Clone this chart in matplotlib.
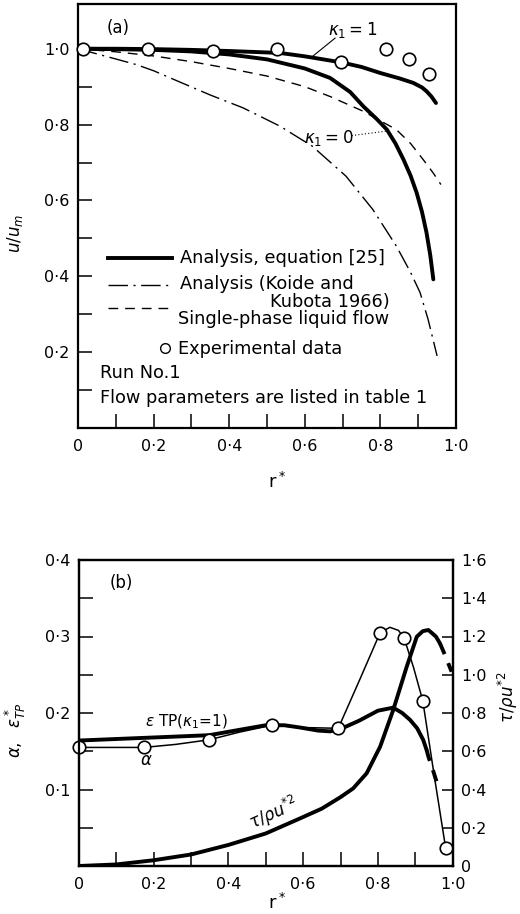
import numpy as np
import matplotlib
matplotlib.use("Agg")
import matplotlib.pyplot as plt
from matplotlib.lines import Line2D

plt.rcParams['font.family'] = ['DejaVu Sans']
plt.rcParams['mathtext.fontset'] = 'dejavusans'

# ---------------- Panel (a) data ----------------
r_exp = [0.012, 0.186, 0.356, 0.527, 0.697, 0.815, 0.875, 0.928]
u_exp = [1.0, 1.0, 0.994, 1.0, 0.964, 1.0, 0.973, 0.934]

r_k1 = [0.0, 0.1, 0.2, 0.3, 0.4, 0.534, 0.6, 0.697, 0.75, 0.8, 0.85, 0.887, 0.91, 0.922, 0.935, 0.947]
u_k1 = [1.0, 1.0, 0.999, 0.997, 0.994, 0.989, 0.98, 0.964, 0.952, 0.936, 0.922, 0.91, 0.898, 0.888, 0.874, 0.857]

r_k0 = [0.0, 0.1, 0.2, 0.3, 0.4, 0.5, 0.6, 0.667, 0.72, 0.755, 0.79, 0.817, 0.84, 0.861, 0.88,
        0.896, 0.91, 0.922, 0.932, 0.94]
u_k0 = [1.0, 0.999, 0.997, 0.993, 0.985, 0.972, 0.948, 0.923, 0.886, 0.848, 0.815, 0.787, 0.75,
        0.708, 0.665, 0.62, 0.57, 0.515, 0.455, 0.392]

r_sp = [0.0, 0.1, 0.2, 0.3, 0.4, 0.5, 0.6, 0.667, 0.755, 0.8, 0.842, 0.88, 0.913, 0.94, 0.96]
u_sp = [1.0, 0.992, 0.981, 0.966, 0.948, 0.928, 0.9, 0.874, 0.835, 0.81, 0.787, 0.75, 0.708, 0.672, 0.642]

r_kk = [0.0, 0.1, 0.155, 0.2, 0.27, 0.35, 0.437, 0.534, 0.62, 0.709, 0.78, 0.842, 0.88, 0.905, 0.926, 0.95]
u_kk = [1.0, 0.973, 0.958, 0.942, 0.912, 0.878, 0.844, 0.796, 0.743, 0.664, 0.576, 0.48, 0.41, 0.357, 0.287, 0.19]

# ---------------- Panel (b) data ----------------
r_alpha_pts = [0.002, 0.175, 0.349, 0.516, 0.694, 0.806, 0.870, 0.920, 0.981]
alpha_pts = [0.155, 0.155, 0.165, 0.184, 0.180, 0.305, 0.298, 0.216, 0.024]

r_alpha = [0.002, 0.175, 0.26, 0.349, 0.43, 0.516, 0.6, 0.694, 0.75, 0.806, 0.832, 0.855, 0.870,
           0.895, 0.920, 0.95, 0.981]
alpha = [0.155, 0.155, 0.159, 0.165, 0.175, 0.184, 0.181, 0.180, 0.242, 0.305, 0.312, 0.308, 0.298,
         0.26, 0.216, 0.12, 0.024]

r_eps = [0.0, 0.1, 0.2, 0.3, 0.349, 0.43, 0.5, 0.55, 0.592, 0.64, 0.672, 0.7, 0.75, 0.8, 0.841,
         0.865, 0.886, 0.905, 0.921, 0.93]
eps = [0.164, 0.166, 0.168, 0.170, 0.171, 0.178, 0.184, 0.184, 0.181, 0.177, 0.176, 0.179, 0.19,
       0.203, 0.207, 0.2, 0.191, 0.18, 0.165, 0.152]
r_eps_d = [0.93, 0.935, 0.948, 0.961]
eps_d = [0.152, 0.143, 0.124, 0.104]

r_tau = [0.0, 0.1, 0.2, 0.3, 0.4, 0.5, 0.592, 0.65, 0.7, 0.734, 0.77, 0.806, 0.841, 0.877, 0.904,
         0.92, 0.935, 0.955, 0.966]
tau = [0.0, 0.008, 0.03, 0.06, 0.11, 0.17, 0.249, 0.3, 0.36, 0.406, 0.485, 0.624, 0.816, 1.042,
       1.199, 1.228, 1.234, 1.2, 1.164]
r_tau_d = [0.966, 0.98, 0.997]
tau_d = [1.164, 1.1, 1.016]

x_ticks = [0.0, 0.1, 0.2, 0.3, 0.4, 0.5, 0.6, 0.7, 0.8, 0.9, 1.0]
x_ticklabels = ['0', '', '0·2', '', '0·4', '', '0·6', '', '0·8', '', '1·0']
ya_ticks = [0.1, 0.2, 0.3, 0.4, 0.5, 0.6, 0.7, 0.8, 0.9, 1.0]
ya_ticklabels = ['', '0·2', '', '0·4', '', '0·6', '', '0·8', '', '1·0']
yb_ticks = [0.05, 0.1, 0.15, 0.2, 0.25, 0.3, 0.35, 0.4]
yb_ticklabels = ['', '0·1', '', '0·2', '', '0·3', '', '0·4']
yr_ticks = [0.0, 0.2, 0.4, 0.6, 0.8, 1.0, 1.2, 1.4, 1.6]
yr_ticklabels = ['0', '0·2', '0·4', '0·6', '0·8', '1·0', '1·2', '1·4', '1·6']

W, H = 520, 914
fig = plt.figure(figsize=(W / 100, H / 100), dpi=100)

def frac_rect(l, r, t, b):
    return [l / W, 1 - b / H, (r - l) / W, (b - t) / H]

TFS = 11.5   # tick labels
LFS = 12     # annotations
GFS = 12.8   # legend / notes

def style_axes(ax):
    for s in ax.spines.values():
        s.set_linewidth(1.6)
    ax.tick_params(direction='in', length=10, width=1.1, labelsize=TFS, pad=6)

# ---------------- Panel (a) ----------------
ax1 = fig.add_axes(frac_rect(78, 456, 4, 428))
style_axes(ax1)
ax1.set_xlim(0, 1.0)
ax1.set_ylim(0, 1.118)
ax1.set_xticks(x_ticks)
ax1.set_xticklabels(x_ticklabels)
ax1.set_yticks(ya_ticks)
ax1.set_yticklabels(ya_ticklabels)
ax1.tick_params(axis='x', pad=8)

ax1.plot(r_kk, u_kk, color='black', lw=1.0, dashes=(14, 4, 1.5, 4))
ax1.plot(r_sp, u_sp, color='black', lw=1.0, dashes=(7, 5))
ax1.plot(r_k0, u_k0, color='black', lw=2.8, solid_capstyle='round')
ax1.plot(r_k1, u_k1, color='black', lw=2.8, solid_capstyle='round')
ax1.plot(r_exp, u_exp, 'o', ms=9, mfc='white', mec='black', mew=1.2, clip_on=False, zorder=5)

ax1.text(0.077, 0.943, '(a)', transform=ax1.transAxes, fontsize=LFS, ha='left', va='center')
ax1.text(0.726, 1.05, r'$\kappa_1=1$', fontsize=LFS, ha='center', va='center')
ax1.plot([0.68, 0.622], [1.028, 0.981], color='black', lw=0.8)
ax1.text(0.664, 0.765, r'$\kappa_1=0$', fontsize=LFS, ha='center', va='center')
ax1.plot([0.724, 0.817], [0.771, 0.783], color='black', lw=0.8, ls=(0, (1, 2)))

# legend (drawn manually)
ax1.add_line(Line2D([0.079, 0.249], [0.401, 0.401], transform=ax1.transAxes, color='black', lw=2.8))
ax1.text(0.27, 0.401, 'Analysis, equation [25]', transform=ax1.transAxes, fontsize=GFS, va='center')
ax1.add_line(Line2D([0.079, 0.249], [0.337, 0.337], transform=ax1.transAxes, color='black', lw=1.0,
                    dashes=(14, 4, 1.5, 4)))
ax1.text(0.27, 0.34, 'Analysis (Koide and', transform=ax1.transAxes, fontsize=GFS, va='center')
ax1.text(0.508, 0.297, 'Kubota 1966)', transform=ax1.transAxes, fontsize=GFS, va='center')
ax1.add_line(Line2D([0.079, 0.249], [0.283, 0.283], transform=ax1.transAxes, color='black', lw=1.0,
                    dashes=(7, 5)))
ax1.text(0.265, 0.257, 'Single-phase liquid flow', transform=ax1.transAxes, fontsize=GFS, va='center')
ax1.add_line(Line2D([0.23], [0.189], transform=ax1.transAxes, marker='o', ms=7, mfc='white',
                    mec='black', mew=1.0, ls='none'))
ax1.text(0.265, 0.186, 'Experimental data', transform=ax1.transAxes, fontsize=GFS, va='center')
ax1.text(0.058, 0.13, 'Run No.1', transform=ax1.transAxes, fontsize=GFS, va='center')
ax1.text(0.058, 0.071, 'Flow parameters are listed in table 1', transform=ax1.transAxes,
         fontsize=GFS, va='center')

fig.text(15 / W, 1 - 233 / H, r'$u/u_m$', rotation=90, fontsize=LFS, ha='center', va='center')
fig.text(277 / W, 1 - 482 / H, r'r$^*$', fontsize=13, ha='center', va='center')

# ---------------- Panel (b) ----------------
ax2 = fig.add_axes(frac_rect(78.7, 452.7, 560, 866))
style_axes(ax2)
ax2.set_xlim(0, 1.0)
ax2.set_ylim(0, 0.4)
ax2.set_xticks(x_ticks)
ax2.set_xticklabels(x_ticklabels)
ax2.set_yticks(yb_ticks)
ax2.set_yticklabels(yb_ticklabels)
ax2.tick_params(axis='x', pad=8)

ax3 = ax2.twinx()
ax3.set_ylim(0, 1.6)
ax3.set_yticks(yr_ticks)
ax3.set_yticklabels(yr_ticklabels)
ax3.tick_params(direction='in', length=8, width=1.1, labelsize=TFS, pad=6)
for s in ax3.spines.values():
    s.set_linewidth(1.6)

ax2.plot(r_alpha, alpha, color='black', lw=1.1, zorder=3)
ax2.plot(r_eps, eps, color='black', lw=2.8, solid_capstyle='round', zorder=3)
ax2.plot(r_eps_d, eps_d, color='black', lw=2.8, dashes=(3, 2.5), zorder=3)
ax2.plot(r_alpha_pts, alpha_pts, 'o', ms=9, mfc='white', mec='black', mew=1.2, clip_on=False, zorder=5)
ax3.plot(r_tau, tau, color='black', lw=2.8, solid_capstyle='round', zorder=3)
ax3.plot(r_tau_d, tau_d, color='black', lw=2.8, dashes=(3, 2.5), zorder=3)

ax2.text(0.084, 0.925, '(b)', transform=ax2.transAxes, fontsize=LFS, ha='left', va='center')
ax2.text(0.178, 0.188, r'$\epsilon$ TP($\kappa_1$=1)', fontsize=11, ha='left', va='center')
ax2.text(0.18, 0.139, r'$\alpha$', fontsize=LFS, ha='center', va='center')
ax2.text(0.52, 0.069, r'$\tau/\rho u^{*2}$', fontsize=LFS, ha='center', va='center', rotation=24)

fig.text(15 / W, 1 - 730 / H, r'$\alpha,\ \ \epsilon^*_{TP}$', rotation=90, fontsize=LFS,
         ha='center', va='center')
fig.text(508 / W, 1 - 697 / H, r'$\tau/\rho u^{*2}$', rotation=90, fontsize=LFS,
         ha='center', va='center')
fig.text(277 / W, 1 - 903 / H, r'r$^*$', fontsize=13, ha='center', va='center')

fig.savefig('out.png', dpi=100)
